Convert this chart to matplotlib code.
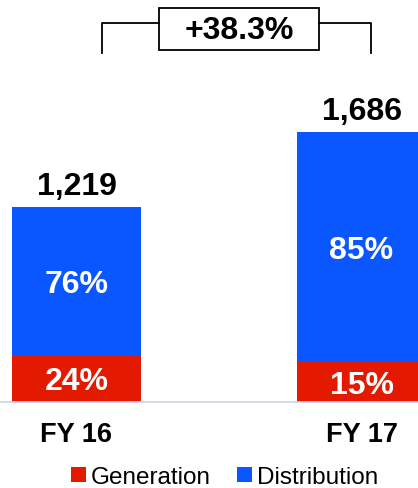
import matplotlib
matplotlib.use("Agg")
import matplotlib.pyplot as plt
import numpy as np

plt.rcParams['font.family'] = ['Liberation Sans', 'DejaVu Sans']

# datos
anios = ["FY 16", "FY 17"]
totales = [1219, 1686]
generacion_pct = [24, 15]
distribucion_pct = [76, 85]
series = ["Generation", "Distribution"]

rojo = "#E41A00"
azul = "#0A56FF"

W, H = 418, 489
fig = plt.figure(figsize=(W / 100, H / 100), dpi=100)

# ejes: base de las barras a 403 px desde arriba
base_px = 403
ax = fig.add_axes([0, (H - base_px) / H, 1, base_px / H])

x = np.arange(len(anios))
ancho = 0.4526
gen = np.array(totales) * np.array(generacion_pct) / 100
dist = np.array(totales) - gen

ax.bar(x, gen, ancho, color=rojo, label=series[0])
ax.bar(x, dist, ancho, bottom=gen, color=azul, label=series[1])

ax.set_xlim(-0.2684, 1.1982)
ax.set_ylim(0, base_px / (195 / 1219))
ax.axis("off")
ax.axhline(0, color="#C9D3E8", lw=1.2, xmin=0, xmax=1, clip_on=False)

for i in range(len(anios)):
    ax.annotate(f"{generacion_pct[i]}%", (x[i], gen[i] / 2), xytext=(0, -2), textcoords="offset points",
                ha="center", va="center", color="white", fontsize=23, fontweight="bold")
    ax.annotate(f"{distribucion_pct[i]}%", (x[i], gen[i] + dist[i] / 2), xytext=(0, -2),
                textcoords="offset points", ha="center", va="center", color="white",
                fontsize=23, fontweight="bold")
    ax.annotate(f"{totales[i]:,}", (x[i], totales[i]), xytext=(0, 15), textcoords="offset points",
                ha="center", va="center", fontsize=23, fontweight="bold", annotation_clip=False)
    ax.annotate(anios[i], (x[i], 0), xytext=(0, -23), textcoords="offset points",
                ha="center", va="center", fontsize=19.5, fontweight="bold", annotation_clip=False)

# corchete con el crecimiento
crec = (totales[1] / totales[0] - 1) * 100
def fx(px):
    return px / W
def fy(py):
    return (H - py) / H
fig.add_artist(plt.Line2D([fx(102), fx(102), fx(159)], [fy(54), fy(24), fy(24)], color="black", lw=1.3))
fig.add_artist(plt.Line2D([fx(319), fx(371), fx(371)], [fy(24), fy(24), fy(54)], color="black", lw=1.3))
fig.add_artist(plt.Rectangle((fx(159), fy(51)), fx(319) - fx(159), fy(9) - fy(51),
                             fill=False, edgecolor="black", lw=1.3))
fig.text(fx(239), fy(31), f"+{crec:.1f}%", ha="center", va="center", fontsize=23, fontweight="bold")

leg = fig.legend(loc="center", bbox_to_anchor=(0.537, fy(478)), ncol=2, frameon=False,
                 fontsize=17.5, handlelength=0.62, handleheight=0.62, handletextpad=0.2,
                 columnspacing=1.1, borderpad=0)

fig.savefig("out.png", dpi=100)
